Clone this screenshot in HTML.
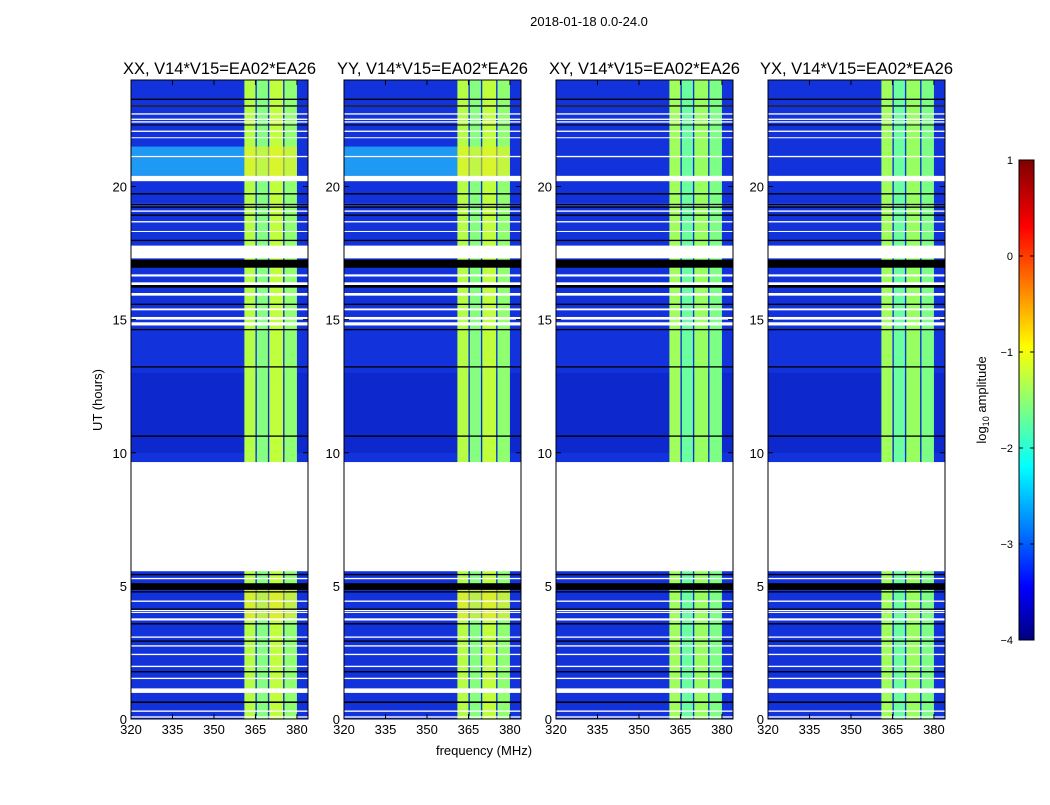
<!DOCTYPE html>
<html><head><meta charset="utf-8"><style>
body{margin:0;background:#fff;}
svg text{font-family:"Liberation Sans",sans-serif;fill:#000;}
</style></head><body>
<svg id="fig" width="1050" height="800" viewBox="0 0 1050 800" xmlns="http://www.w3.org/2000/svg">
<defs>
<linearGradient id="jet" x1="0" y1="1" x2="0" y2="0">
<stop offset="0" stop-color="#00007f"/><stop offset="0.11" stop-color="#0000ff"/><stop offset="0.36" stop-color="#00ffff"/><stop offset="0.61" stop-color="#ffff00"/><stop offset="0.86" stop-color="#ff0000"/><stop offset="1" stop-color="#7f0000"/>
</linearGradient>
</defs>
<text x="589" y="26" font-size="13" text-anchor="middle">2018-01-18 0.0-24.0</text>
<text x="484" y="755" font-size="13" text-anchor="middle">frequency (MHz)</text>
<text transform="translate(102,400) rotate(-90)" font-size="13" text-anchor="middle">UT (hours)</text>
<g id="panels"></g>
<g>
<rect x="1019" y="160" width="15" height="480" fill="url(#jet)" stroke="#000" stroke-width="1"/>
<g id="cbticks"></g>
<text transform="translate(986,400) rotate(-90)" font-size="13" text-anchor="middle">log<tspan font-size="9" dy="3">10</tspan><tspan dy="-3"> amplitude</tspan></text>
</g>
</svg>
<script>
const panelTitles = ["XX, V14*V15=EA02*EA26","YY, V14*V15=EA02*EA26","XY, V14*V15=EA02*EA26","YX, V14*V15=EA02*EA26"];
const panelLefts = [131,344,556,768];
const xTicks = [320,335,350,365,380];
const yTicks = [0,5,10,15,20];
const cbTicks = [1,0,-1,-2,-3,-4];
const bandStarts = [361,365.5,370,375.5];
const bandEnds = [365,369.5,375,380];
const bandColorsCo = ["#b4ff46","#86ff80","#c0ff3c","#90ff70"];
const bandColorsCross = ["#a0ff5a","#6cffa0","#98ff60","#7cff84"];
const whiteStart = [5.55,17.3,0.05,0.27,0.98,1.5,1.95,2.4,2.72,3.05,3.7,4.0,4.05,4.4,4.95,5.25,
 14.78,15.0,15.35,15.9,16.3,16.62,17.7,18.3,18.65,19.05,19.3,20.2,21.1,21.85,22.05,22.4,22.5,22.7,23.0];
const whiteEnd =   [9.65,17.75,0.1,0.32,1.15,1.55,2.0,2.45,2.77,3.1,3.78,4.02,4.1,4.45,5.0,5.3,
 14.9,15.1,15.42,16.0,16.4,16.7,17.78,18.33,18.7,19.1,19.35,20.4,21.15,21.85,22.1,22.45,22.55,22.75,23.05];
const blackStart = [16.95,0.6,1.75,2.9,3.55,4.1,4.75,4.85,5.4,10.6,13.2,14.6,15.55,16.2,17.95,18.9,19.2,19.3,19.7,22.3,23.0,23.25];
const blackEnd =   [17.25,0.66,1.8,2.95,3.6,4.15,4.8,5.1,5.45,10.65,13.25,14.65,15.6,16.3,18.0,18.95,19.25,19.35,19.75,22.33,23.05,23.3];
const lbStart = [20.4,21.15];
const lbEnd = [21.1,21.5];

const NS="http://www.w3.org/2000/svg";
const P={w:177,top:80,bot:719,f0:320,f1:384,h1:24};
function mk(tag,attrs,parent){const e=document.createElementNS(NS,tag);for(const k in attrs)e.setAttribute(k,attrs[k]);parent.appendChild(e);return e;}
function yOf(h){return P.bot-(h/P.h1)*(P.bot-P.top);}
function xOf(left,f){return left+(f-P.f0)/(P.f1-P.f0)*P.w;}
const g=document.getElementById('panels');
panelTitles.forEach((t,i)=>{
 const L=panelLefts[i];
 const pg=mk('g',{},g);
 
 
 const bg=mk('rect',{x:L,y:P.top,width:P.w,height:P.bot-P.top,fill:'#1232dc'},pg);
 
 
 mk('rect',{x:L,y:yOf(13),width:P.w,height:yOf(10)-yOf(13),fill:'#0c26c8',opacity:0.8},pg);
 if(i<2){lbStart.forEach((s,k)=>{
  const r=mk('rect',{x:L,y:yOf(lbEnd[k]),width:xOf(L,361)-L,height:yOf(s)-yOf(lbEnd[k]),fill:'#1e9af4'},pg);
  
  
 });}
 const cols=i<2?bandColorsCo:bandColorsCross;
 bandStarts.forEach((s,k)=>{
  const r=mk('rect',{x:xOf(L,s),y:P.top,width:xOf(L,bandEnds[k])-xOf(L,s),height:P.bot-P.top,fill:cols[k]},pg);
  
  
 });
 if(i<2){
  mk('rect',{x:xOf(L,361),y:yOf(21.5),width:xOf(L,380)-xOf(L,361),height:yOf(20.4)-yOf(21.5),fill:'#e8f020',opacity:0.6},pg);
  mk('rect',{x:xOf(L,361),y:yOf(5),width:xOf(L,380)-xOf(L,361),height:yOf(3.7)-yOf(5),fill:'#f0e020',opacity:0.5},pg);
 }
 whiteStart.forEach((s,k)=>{
  const r=mk('rect',{x:L,y:yOf(whiteEnd[k]),width:P.w,height:Math.max(1,yOf(s)-yOf(whiteEnd[k])),fill:'#fff'},pg);
  
  
 });
 blackStart.forEach((s,k)=>{
  const r=mk('rect',{x:L,y:yOf(blackEnd[k]),width:P.w,height:Math.max(1,yOf(s)-yOf(blackEnd[k])),fill:'#000'},pg);
  
  
 });
 mk('rect',{x:L,y:P.top,width:P.w,height:P.bot-P.top,fill:'none',stroke:'#000','stroke-width':1},pg);
 const tt=mk('text',{x:L+P.w/2,y:74,'font-size':16.5,'text-anchor':'middle'},pg);tt.textContent=t;
 
 
 xTicks.forEach(v=>{const x=xOf(L,v);
  mk('line',{x1:x,x2:x,y1:P.bot,y2:P.bot-5,stroke:'#000'},pg);
  mk('line',{x1:x,x2:x,y1:P.top,y2:P.top+5,stroke:'#000'},pg);
  const tx=mk('text',{x:x,y:P.bot+15,'font-size':13,'text-anchor':'middle'},pg);tx.textContent=v;
  
  });
 yTicks.forEach(v=>{const y=yOf(v);
  mk('line',{x1:L,x2:L+5,y1:y,y2:y,stroke:'#000'},pg);
  mk('line',{x1:L+P.w-5,x2:L+P.w,y1:y,y2:y,stroke:'#000'},pg);
  const ty=mk('text',{x:L-4,y:y+5,'font-size':13,'text-anchor':'end'},pg);ty.textContent=v;
  
  });
});
const cb=document.getElementById('cbticks');
cbTicks.forEach(v=>{const y=160+(1-v)/5*480;
 mk('line',{x1:1019,x2:1023,y1:y,y2:y,stroke:'#000'},cb);
 mk('line',{x1:1030,x2:1034,y1:y,y2:y,stroke:'#000'},cb);
 const t=mk('text',{x:1013,y:y+4,'font-size':11,'text-anchor':'end'},cb);t.textContent=v<0?'\u2212'+(-v):v;
 
 });
</script>
</body></html>
